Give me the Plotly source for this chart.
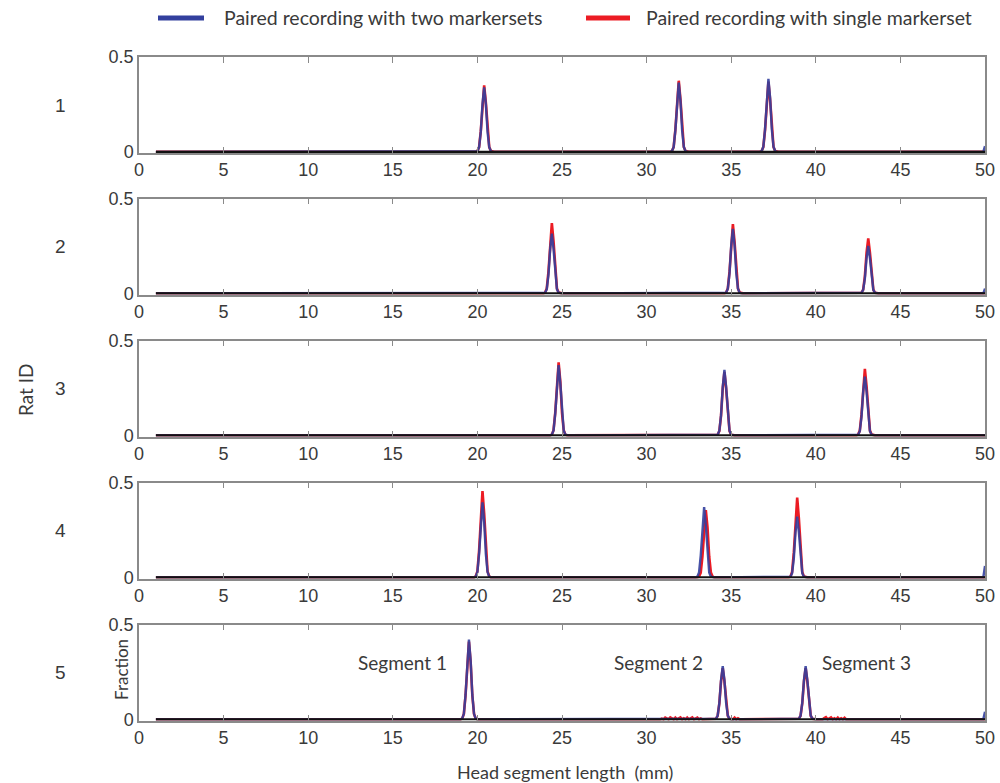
import numpy as np
import plotly.graph_objects as go
from plotly.subplots import make_subplots

# ---------------- data ----------------
RAT_IDS = ["1", "2", "3", "4", "5"]
X_TICKS = [0, 5, 10, 15, 20, 25, 30, 35, 40, 45, 50]
Y_TICKS = [0, 0.5]
Y_TICK_TEXT = ["0", "0.5"]
BIN_START = 1.0
BIN_END = 50.0
BIN_STEP = 0.1

SERIES_NAMES = ["Paired recording with two markersets", "Paired recording with single markerset"]

# peaks: (centre bin in mm, 9 fraction values read around the centre, 0.1 mm bins)
BLUE_RAT1 = [(20.4, [0.003, 0.024, 0.105, 0.252, 0.340, 0.252, 0.105, 0.024, 0.003]),
             (31.9, [0.004, 0.026, 0.113, 0.270, 0.365, 0.270, 0.113, 0.026, 0.004]),
             (37.2, [0.004, 0.027, 0.119, 0.285, 0.385, 0.285, 0.119, 0.027, 0.004])]
RED_RAT1 = [(20.4, [0.004, 0.025, 0.109, 0.259, 0.350, 0.259, 0.109, 0.025, 0.004]),
            (31.9, [0.004, 0.026, 0.116, 0.278, 0.375, 0.278, 0.116, 0.026, 0.004]),
            (37.2, [0.004, 0.026, 0.115, 0.274, 0.370, 0.274, 0.115, 0.026, 0.004])]

BLUE_RAT2 = [(24.4, [0.003, 0.022, 0.098, 0.233, 0.315, 0.233, 0.098, 0.022, 0.003]),
             (35.1, [0.003, 0.024, 0.105, 0.252, 0.340, 0.252, 0.105, 0.024, 0.003]),
             (43.1, [0.003, 0.018, 0.078, 0.185, 0.250, 0.185, 0.078, 0.018, 0.003])]
RED_RAT2 = [(24.4, [0.004, 0.026, 0.115, 0.274, 0.370, 0.274, 0.115, 0.026, 0.004]),
            (35.1, [0.004, 0.026, 0.113, 0.270, 0.365, 0.270, 0.113, 0.026, 0.004]),
            (43.1, [0.003, 0.020, 0.090, 0.215, 0.290, 0.215, 0.090, 0.020, 0.003])]

BLUE_RAT3 = [(24.8, [0.004, 0.026, 0.115, 0.274, 0.370, 0.274, 0.115, 0.026, 0.004]),
             (34.6, [0.003, 0.024, 0.107, 0.255, 0.345, 0.255, 0.107, 0.024, 0.003]),
             (42.9, [0.003, 0.022, 0.096, 0.229, 0.310, 0.229, 0.096, 0.022, 0.003])]
RED_RAT3 = [(24.8, [0.004, 0.027, 0.119, 0.285, 0.385, 0.285, 0.119, 0.027, 0.004]),
            (34.6, [0.003, 0.023, 0.104, 0.248, 0.335, 0.248, 0.104, 0.023, 0.003]),
            (42.9, [0.004, 0.025, 0.109, 0.259, 0.350, 0.259, 0.109, 0.025, 0.004])]

BLUE_RAT4 = [(20.3, [0.004, 0.028, 0.122, 0.292, 0.395, 0.292, 0.122, 0.028, 0.004]),
             (33.4, [0.004, 0.026, 0.115, 0.274, 0.370, 0.274, 0.115, 0.026, 0.004]),
             (38.9, [0.003, 0.022, 0.099, 0.237, 0.320, 0.237, 0.099, 0.022, 0.003])]
RED_RAT4 = [(20.3, [0.005, 0.032, 0.141, 0.337, 0.455, 0.337, 0.141, 0.032, 0.005]),
            (33.5, [0.004, 0.025, 0.110, 0.263, 0.355, 0.263, 0.110, 0.025, 0.004]),
            (38.9, [0.004, 0.029, 0.130, 0.311, 0.420, 0.311, 0.130, 0.029, 0.004])]

BLUE_RAT5 = [(19.5, [0.004, 0.029, 0.130, 0.311, 0.420, 0.311, 0.130, 0.029, 0.004]),
             (34.5, [0.003, 0.020, 0.087, 0.207, 0.280, 0.207, 0.087, 0.020, 0.003]),
             (39.4, [0.003, 0.020, 0.087, 0.207, 0.280, 0.207, 0.087, 0.020, 0.003])]
RED_RAT5 = [(19.5, [0.004, 0.029, 0.127, 0.303, 0.410, 0.303, 0.127, 0.029, 0.004]),
            (34.5, [0.003, 0.019, 0.084, 0.200, 0.270, 0.200, 0.084, 0.019, 0.003]),
            (39.4, [0.003, 0.019, 0.084, 0.200, 0.270, 0.200, 0.084, 0.019, 0.003])]

# isolated single-bin values (x in mm, fraction)
BLUE_EXTRA = [[(50.0, 0.03)], [(50.0, 0.025)], [], [(50.0, 0.06)], [(50.0, 0.04)]]
RED_EXTRA = [[], [], [], [],
             [(30.9, 0.004), (31.1, 0.009), (31.2, 0.006), (31.4, 0.010), (31.5, 0.005),
              (31.7, 0.009), (31.9, 0.005), (32.0, 0.010), (32.2, 0.006), (32.4, 0.009),
              (32.6, 0.005), (32.7, 0.010), (32.9, 0.006), (33.0, 0.009), (33.2, 0.005),
              (35.2, 0.009), (35.4, 0.006),
              (40.5, 0.006), (40.6, 0.011), (40.8, 0.007), (40.9, 0.010), (41.1, 0.006),
              (41.3, 0.009), (41.5, 0.006), (41.7, 0.008)]]

BLUE_PEAKS = [BLUE_RAT1, BLUE_RAT2, BLUE_RAT3, BLUE_RAT4, BLUE_RAT5]
RED_PEAKS = [RED_RAT1, RED_RAT2, RED_RAT3, RED_RAT4, RED_RAT5]

SEGMENT_LABELS = ["Segment 1", "Segment 2", "Segment 3"]
SEGMENT_LABEL_X = [15.6, 30.7, 43.0]
SEGMENT_LABEL_Y = 0.30

# ---------------- build ----------------
bins = np.round(np.arange(BIN_START, BIN_END + BIN_STEP / 2, BIN_STEP), 1)


def build(peaks, extra):
    y = np.zeros_like(bins)
    for c, vals in peaks:
        ci = int(round((c - BIN_START) / BIN_STEP))
        for k, v in enumerate(vals):
            j = ci - 4 + k
            if 0 <= j < len(y):
                y[j] = v
    for xv, v in extra:
        j = int(round((xv - BIN_START) / BIN_STEP))
        y[j] = v
    return y


BLUE = "#33409e"
RED = "#ec1c24"
AX_COL = "#8a8a8a"
TXT = "#3a3a3a"
TXT_FONT = "Lato"
NUM_FONT = "Liberation Sans"

W, H = 1000, 783
L_PX, R_PX = 139, 985
tops = [57, 198.5, 340.5, 482.5, 624.5]
ph = 96

fig = make_subplots(rows=5, cols=1, shared_xaxes=False, vertical_spacing=0.02)

for i in range(5):
    r = i + 1
    yb = build(BLUE_PEAKS[i], BLUE_EXTRA[i])
    yr = build(RED_PEAKS[i], RED_EXTRA[i])
    base = np.zeros_like(bins)
    fig.add_trace(go.Scatter(x=bins, y=yr, mode="lines", line=dict(color=RED, width=2.6),
                             name=SERIES_NAMES[1], showlegend=False, hoverinfo="skip"), row=r, col=1)
    fig.add_trace(go.Scatter(x=bins, y=yb, mode="lines", line=dict(color=BLUE, width=2.4),
                             opacity=0.9, name=SERIES_NAMES[0], showlegend=False, hoverinfo="skip"), row=r, col=1)
    fig.add_trace(go.Scatter(x=bins, y=base, mode="lines", line=dict(color="#111111", width=2.4),
                             showlegend=False, hoverinfo="skip"), row=r, col=1)

    top = tops[i]
    dom = [1 - (top + ph) / H, 1 - top / H]
    xa = "xaxis" if i == 0 else f"xaxis{r}"
    ya = "yaxis" if i == 0 else f"yaxis{r}"
    fig.layout[xa].update(domain=[0, 1], range=[0, 50], tickvals=X_TICKS,
                          ticktext=[str(t) for t in X_TICKS],
                          ticks="inside", ticklen=6, tickwidth=1, tickcolor=AX_COL,
                          showline=True, linecolor=AX_COL, linewidth=1.5, mirror="ticks",
                          showgrid=False, zeroline=False, automargin=False,
                          tickfont=dict(family=NUM_FONT, size=18, color=TXT))
    fig.layout[ya].update(domain=dom, range=[-0.006, 0.5], tickvals=Y_TICKS, ticktext=Y_TICK_TEXT,
                          ticks="", showline=True, linecolor=AX_COL, linewidth=1.5, mirror=True,
                          showgrid=False, zeroline=False, automargin=False,
                          tickfont=dict(family=NUM_FONT, size=18, color=TXT))

annotations = []
for i, rid in enumerate(RAT_IDS):
    yc = 1 - (tops[i] + ph / 2) / H
    annotations.append(dict(text=rid, x=(60 - L_PX) / (R_PX - L_PX), y=yc, xref="paper", yref="paper",
                            showarrow=False, xanchor="center", yanchor="middle",
                            font=dict(family=NUM_FONT, size=19, color=TXT)))
annotations.append(dict(text="Rat ID", x=(25 - L_PX) / (R_PX - L_PX), y=1 - 390 / H, xref="paper",
                        yref="paper", showarrow=False, textangle=-90, xanchor="center", yanchor="middle",
                        font=dict(family=TXT_FONT, size=19, color=TXT)))
annotations.append(dict(text="Fraction", x=(121 - L_PX) / (R_PX - L_PX), y=1 - 670 / H, xref="paper",
                        yref="paper", showarrow=False, textangle=-90, xanchor="center", yanchor="middle",
                        font=dict(family=TXT_FONT, size=17, color=TXT)))
annotations.append(dict(text="Head segment length\u00a0\u00a0(mm)", x=(565 - L_PX) / (R_PX - L_PX),
                        y=1 - 772 / H, xref="paper", yref="paper", showarrow=False,
                        xanchor="center", yanchor="middle",
                        font=dict(family=TXT_FONT, size=18, color=TXT)))
for lab, lx in zip(SEGMENT_LABELS, SEGMENT_LABEL_X):
    annotations.append(dict(text=lab, x=lx, y=SEGMENT_LABEL_Y, xref="x5", yref="y5", showarrow=False,
                            xanchor="center", yanchor="middle",
                            font=dict(family=TXT_FONT, size=19, color=TXT)))

# legend (manual)
shapes = []
legend_items = [(SERIES_NAMES[0], BLUE, 158, 204, 222), (SERIES_NAMES[1], RED, 586, 630, 644)]
for name, col, x0, x1, tx in legend_items:
    shapes.append(dict(type="line", xref="paper", yref="paper",
                       x0=(x0 - L_PX) / (R_PX - L_PX), x1=(x1 - L_PX) / (R_PX - L_PX),
                       y0=1 - 18 / H, y1=1 - 18 / H, line=dict(color=col, width=5)))
    annotations.append(dict(text=name, x=(tx - L_PX) / (R_PX - L_PX), y=1 - 18 / H, xref="paper",
                            yref="paper", showarrow=False, xanchor="left", yanchor="middle",
                            font=dict(family=TXT_FONT, size=19.5, color=TXT)))

fig.update_layout(width=W, height=H, autosize=False,
                  margin=dict(l=L_PX, r=W - R_PX, t=0, b=0, pad=0, autoexpand=False),
                  plot_bgcolor="white", paper_bgcolor="white", showlegend=False,
                  annotations=annotations, shapes=shapes)

fig.write_html("out.html", config={"displayModeBar": False},
               post_script="document.body.style.margin='0';document.body.style.overflow='hidden';")
